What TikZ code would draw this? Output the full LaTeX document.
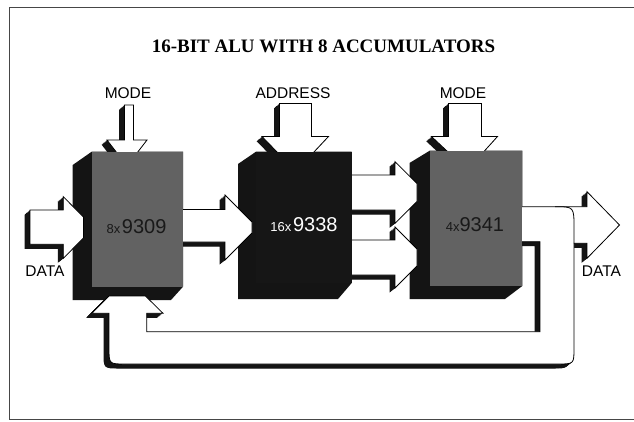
\documentclass[tikz,border=0pt]{standalone}
\usepackage{fontspec}
\setmainfont{Liberation Sans}
\newfontfamily\titlefont{Liberation Serif}
\definecolor{frontgray}{RGB}{98,98,98}
\definecolor{deep}{RGB}{20,20,20}
\definecolor{fronttwo}{RGB}{22,22,22}
\definecolor{framec}{RGB}{70,70,70}
\newcommand{\solidshape}[1]{%
  \foreach \t in {0.1,0.2,...,1.0}{\fill[deep,shift={({-5.5*\t},{4.5*\t})}] #1;}%
  \filldraw[arrowbody] #1;}
\begin{document}
\begin{tikzpicture}[x=1pt,y=-1pt,
  arrowbody/.style={fill=white,draw=black,line width=0.8pt,line join=miter},
  lbl/.style={inner sep=0pt,anchor=base,font=\fontsize{15.5}{16}\selectfont},
  blocklbl/.style={inner sep=0pt,anchor=base}]
\useasboundingbox (0,0) rectangle (634,421);
\fill[white] (0,0) rectangle (634,421);
% frame
\draw[framec,line width=0.7pt] (634,7.5) -- (9,7.5) -- (9,419.5) -- (634,419.5);
% title
\node[inner sep=0pt,anchor=base] (title) at (323.5,52.7)
  {\titlefont\bfseries\fontsize{19}{20}\selectfont 16-BIT ALU WITH 8 ACCUMULATORS};
% labels
\node[lbl] (mode1) at (128,98.8) {MODE};
\node[lbl] (addr) at (293,98.8) {ADDRESS};
\node[lbl] (mode3) at (463,98.5) {MODE};
\node[lbl] (datain) at (45,276.8) {DATA};
\node[lbl] (dataout) at (601.5,276) {DATA};
% block depths
\fill[deep] (91.7,151.7) -- (183,151.7) -- (183,286.7) -- (171,300) -- (72.7,300) -- (72.7,165) -- cycle;
\fill[deep] (256,151.7) -- (351.7,151.7) -- (351.7,283) -- (338,299) -- (238,299) -- (238,164) -- cycle;
\fill[deep] (430,150.5) -- (522.3,150.5) -- (522.3,286) -- (505,299) -- (409.5,299) -- (409.5,163) -- cycle;
% down arrows
\solidshape{(124.5,105) -- (133.5,105) -- (133.5,140) -- (147,140) -- (137,153) -- (117,153) -- (107,140) -- (124.5,140) -- cycle}
\solidshape{(279.5,103.5) -- (311.5,103.5) -- (311.5,136.5) -- (328.5,136.5) -- (313,153) -- (278,153) -- (262,136.5) -- (279.5,136.5) -- cycle}
\solidshape{(448.5,103.5) -- (481.5,103.5) -- (481.5,136.5) -- (497.5,136.5) -- (483.5,152) -- (448,152) -- (431.5,136.5) -- (448.5,136.5) -- cycle}
% input arrow
\solidshape{(30,210) -- (63.3,210) -- (63.3,196.7) -- (83.5,217) -- (83.5,238) -- (63.3,258.3) -- (63.3,244.3) -- (30,244.3) -- cycle}
% block1 -> block2
\solidshape{(180,209.5) -- (225,209.5) -- (225,195) -- (252,222) -- (252,233) -- (225,260) -- (225,242) -- (180,242) -- cycle}
% block2 -> block3
\solidshape{(349,175) -- (395,175) -- (395,161.7) -- (417,183.5) -- (417,201.5) -- (395,223.3) -- (395,210) -- (349,210) -- cycle}
\solidshape{(349,240) -- (395,240) -- (395,227) -- (417,249) -- (417,266) -- (395,288) -- (395,275) -- (349,275) -- cycle}
% output + feedback pipe
\solidshape{(520,206.7) -- (587,206.7) -- (587,191.7) -- (619.5,225) -- (587,258.3) -- (587,243.3) -- (574,243.3) -- (574,348) .. controls (574,364) .. (558,364) -- (125,364) .. controls (109,364) .. (109,348) -- (109,313.3) -- (91.7,313.3) -- (109,296) -- (145.5,296) -- (163,313.3) -- (146.7,313.3) -- (146.7,331.7) -- (540,331.7) -- (540,241.7) -- (520,241.7) -- cycle}
\draw[black,line width=0.8pt] (555,206.7) .. controls (574,206.7) .. (574,228) -- (574,243.3);
% block fronts
\fill[frontgray] (91.7,151.7) rectangle (183,286.7);
\fill[fronttwo] (256,151.7) rectangle (351.7,283);
\fill[frontgray] (430,150.5) rectangle (522.3,286);
% block labels
\node[blocklbl,text=black!90] (b1) at (136.5,233.3)
  {{\fontsize{13}{13}\selectfont 8x}\,{\fontsize{20}{20}\selectfont 9309}};
\node[blocklbl,text=white] (b2) at (304,231.7)
  {{\fontsize{13}{13}\selectfont 16x}\,{\fontsize{20}{20}\selectfont 9338}};
\node[blocklbl,text=black!90] (b3) at (475,231.7)
  {{\fontsize{13}{13}\selectfont 4x}{\fontsize{20}{20}\selectfont 9341}};
\end{tikzpicture}
\end{document}
